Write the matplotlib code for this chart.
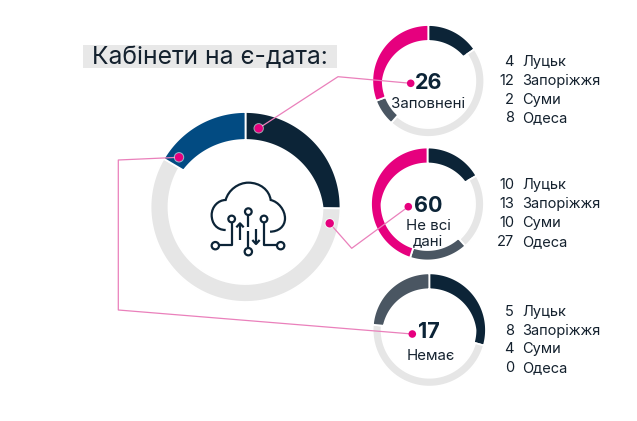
import numpy as np
import matplotlib
matplotlib.use("Agg")
import matplotlib.pyplot as plt
from matplotlib.patches import Circle, Rectangle, PathPatch, Polygon
from matplotlib.path import Path

plt.rcParams["font.family"] = ["Inter", "DejaVu Sans"]

W, H = 637, 421

title = "Кабінети на є-дата:"
status_names = ["Заповнені", "Не всі\nдані", "Немає"]
status_totals = [26, 60, 17]
cities = ["Луцьк", "Запоріжжя", "Суми", "Одеса"]
filled = [4, 12, 2, 8]
partial = [10, 13, 10, 27]
missing = [5, 8, 4, 0]

DARK = "#0c2437"
BLUE = "#024b82"
LIGHT = "#e6e6e6"
SLATE = "#4a5662"
PINK = "#e6007e"
LINE = "#ea80bb"
TEXT = "#14212e"


def Y(py):
    return H - py


def donut(ax, values, colors, cx, cy, radius, side, top, thin):
    wedges, _ = ax.pie(values, colors=colors, center=(cx, Y(cy)), radius=radius,
                       startangle=90, counterclock=False, frame=True)
    # coloured parts get thicker towards 12 o'clock, the grey part stays thin
    for w, color in zip(wedges, colors):
        w.set_visible(False)
        theta = np.radians(np.linspace(w.theta1, w.theta2, 90))
        if color == LIGHT:
            width = np.full_like(theta, thin)
        else:
            width = side + (top - side) * np.clip(np.sin(theta), 0, None)
        inner = radius - width
        xs = np.r_[cx + radius * np.cos(theta), cx + inner[::-1] * np.cos(theta[::-1])]
        ys = np.r_[Y(cy) + radius * np.sin(theta), Y(cy) + inner[::-1] * np.sin(theta[::-1])]
        ax.add_patch(Polygon(np.c_[xs, ys], fc=color, ec="white", lw=1.3, zorder=2))


def leader(ax, points):
    ax.plot([p[0] for p in points], [Y(p[1]) for p in points],
            color=LINE, lw=0.9, zorder=3)


def dot(ax, x, y, r=4.2, halo=False):
    if halo:
        ax.add_patch(Circle((x, Y(y)), r + 1, fc="white", ec="none", alpha=0.6, zorder=4))
    ax.add_patch(Circle((x, Y(y)), r, fc=PINK, ec="none", zorder=5))


def zpt(x, y):
    # icon was measured on the 3x crop
    return 60 + x / 3, Y(30 + y / 3)


def icon(ax):
    lw = 1.6
    cloud = [(497, 600), (470, 600), (455, 580), (455, 555),
             (455, 530), (475, 510), (497, 510),
             (505, 480), (535, 458), (565, 458),
             (600, 458), (628, 480), (632, 510),
             (655, 515), (675, 540), (675, 565),
             (675, 590), (655, 605), (630, 605)]
    codes = [Path.MOVETO] + [Path.CURVE4] * 18
    ax.add_patch(PathPatch(Path([zpt(*p) for p in cloud], codes), fc="none", ec=DARK, lw=lw, zorder=3))
    for x, y, r in [(515, 567, 10), (565, 545, 10), (612, 567, 10),
                    (466, 647, 11), (662, 647, 11), (565, 665, 11)]:
        cx, cy = zpt(x, y)
        ax.add_patch(Circle((cx, cy), r / 3, fc="white", ec=DARK, lw=lw, zorder=4))
    for seg in [[(515, 578), (515, 645), (478, 645)],
                [(612, 578), (612, 645), (650, 645)],
                [(565, 556), (565, 590)],
                [(565, 602), (565, 654)],
                [(540, 630), (540, 582)],
                [(588, 598), (588, 642)],
                [(529, 592), (540, 580), (551, 592)],
                [(577, 630), (588, 642), (599, 630)]]:
        pts = [zpt(*p) for p in seg]
        ax.plot([p[0] for p in pts], [p[1] for p in pts], color=DARK, lw=lw, zorder=3,
                solid_capstyle="butt")


def legend(ax, values, ys):
    for city, v, y in zip(cities, values, ys):
        ax.text(514, Y(y), str(v), ha="right", va="center", fontsize=10.5, color=TEXT)
        ax.text(522, Y(y), city, ha="left", va="center", fontsize=10.5, color=TEXT)


fig = plt.figure(figsize=(W / 100, H / 100), dpi=100)
ax = fig.add_axes([0, 0, 1, 1])

# main ring
donut(ax, status_totals, [DARK, LIGHT, BLUE], 245.5, 207, 95, 18, 28, 18)

# small rings, order is Луцьк, Запоріжжя, Суми, Одеса
small_colors = [DARK, LIGHT, SLATE, PINK]
donut(ax, filled, small_colors, 428.3, 81, 56, 10.5, 16, 9)
donut(ax, partial, small_colors, 427.5, 204, 56.5, 10.5, 16, 9)
donut(ax, missing[:3], small_colors[:3], 429.3, 330, 56.7, 10.5, 16, 9)

leader(ax, [(258.7, 128.3), (338, 76.7), (410.7, 83.3)])
leader(ax, [(329.7, 223.3), (351.7, 248.3), (408.3, 206.7)])
leader(ax, [(179, 157.3), (118.3, 160), (118.3, 310), (412.3, 334)])

dot(ax, 258.7, 128.3, halo=True)
dot(ax, 329.7, 223.3, halo=True)
dot(ax, 179, 157.3, halo=True)
dot(ax, 410.7, 83.3, r=3.8)
dot(ax, 408.3, 206.7, r=3.8)
dot(ax, 412.3, 334, r=3.8)

icon(ax)

ax.add_patch(Rectangle((83, Y(68)), 254, 23, fc="#e8e8e8", ec="none", zorder=1))
ax.text(92, Y(57), title, ha="left", va="center", fontsize=17.8, color=TEXT, zorder=2)

# centre labels
ax.text(428.3, Y(83), str(status_totals[0]), ha="center", va="center", fontsize=15.5, fontweight="bold", color=DARK, zorder=6)
ax.text(428.3, Y(103.5), status_names[0], ha="center", va="center", fontsize=10.8, color=TEXT, zorder=6)
ax.text(428, Y(205.5), str(status_totals[1]), ha="center", va="center", fontsize=15.5, fontweight="bold", color=DARK, zorder=6)
ax.text(428, Y(234), status_names[1], ha="center", va="center", fontsize=10.8, color=TEXT, linespacing=1.1, zorder=6)
ax.text(429, Y(332.5), str(status_totals[2]), ha="center", va="center", fontsize=15.5, fontweight="bold", color=DARK, zorder=6)
ax.text(430.7, Y(356.5), status_names[2], ha="center", va="center", fontsize=10.8, color=TEXT, zorder=6)

legend(ax, filled, [62.3, 81, 99.7, 118.3])
legend(ax, partial, [185, 204, 223, 241.7])
legend(ax, missing, [311.7, 330.7, 349.3, 367.7])

ax.set_xlim(0, W)
ax.set_ylim(0, H)
ax.axis("off")
fig.savefig("out.png", dpi=100, facecolor="white")
